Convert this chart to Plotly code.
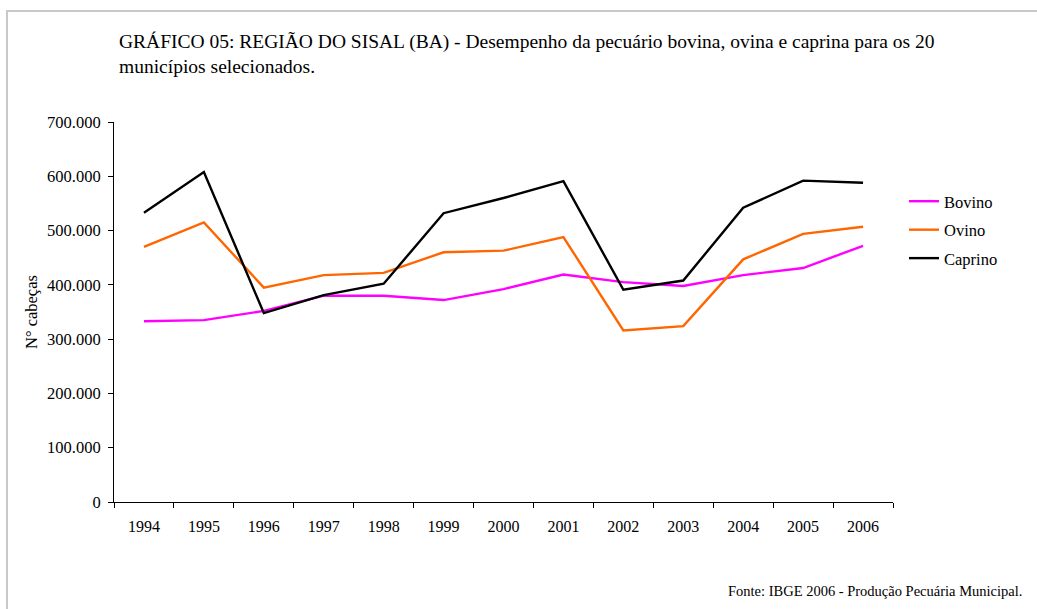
import plotly.graph_objects as go

# Data (number of head, 20 municipalities)
years = ["1994", "1995", "1996", "1997", "1998", "1999", "2000",
         "2001", "2002", "2003", "2004", "2005", "2006"]
bovino = [333000, 335000, 352000, 380000, 380000, 372000, 392000,
          419000, 405000, 398000, 418000, 431000, 472000]
ovino = [470000, 515000, 395000, 418000, 422000, 460000, 463000,
         488000, 316000, 324000, 447000, 494000, 507000]
caprino = [533000, 608000, 348000, 381000, 402000, 532000, 560000,
           591000, 391000, 408000, 542000, 592000, 588000]

series = [
    ("Bovino",  bovino,  "#ff00ff"),
    ("Ovino",   ovino,   "#ff6600"),
    ("Caprino", caprino, "#000000"),
]

FONT = "Liberation Serif"

fig = go.Figure()

for name, vals, color in series:
    fig.add_trace(go.Scatter(
        x=years, y=vals, name=name, mode="lines", legendgroup=name,
        line=dict(color=color, width=2.4),
    ))

# plot area: x 114..893, y 122..502 px
L, R, T, B = 114, 893, 122, 502
W, H = R - L, B - T

def px_x(p):
    return (p - L) / W

def px_y(p):
    return (B - p) / H

fig.update_layout(
    width=1037, height=609,
    margin=dict(l=L, r=1037 - R, t=T, b=609 - B),
    paper_bgcolor="white", plot_bgcolor="white",
    font=dict(family=FONT, size=16, color="black"),
    separators=",.",
    showlegend=True,
    legend=dict(
        x=px_x(904), y=px_y(184), xanchor="left", yanchor="top",
        font=dict(family=FONT, size=16.5),
        bgcolor="rgba(0,0,0,0)", itemwidth=30, tracegroupgap=4,
    ),
    xaxis=dict(
        type="category", range=[-0.5, 12.5],
        tickson="boundaries", ticks="outside", ticklen=5,
        tickcolor="black", showline=True, linecolor="black", linewidth=1,
        showgrid=False, zeroline=False, ticklabelstandoff=10,
        tickfont=dict(family=FONT, size=16),
    ),
    yaxis=dict(
        range=[0, 700000], dtick=100000, tickformat=",d",
        ticks="outside", ticklen=5, tickcolor="black",
        showline=True, linecolor="black", linewidth=1,
        showgrid=False, zeroline=False, ticklabelstandoff=4,
        tickfont=dict(family=FONT, size=16.5),
    ),
)

fig.add_annotation(
    xref="paper", yref="paper", x=px_x(117), y=px_y(29),
    xanchor="left", yanchor="top", showarrow=False, align="left",
    text=("GRÁFICO 05: REGIÃO DO SISAL (BA) - Desempenho da pecuário bovina, "
          "ovina e caprina para os 20<br>municípios selecionados."),
    font=dict(family=FONT, size=19.5),
)

fig.add_annotation(
    xref="paper", yref="paper", x=px_x(31), y=px_y(312),
    xanchor="center", yanchor="middle", showarrow=False, textangle=-90,
    text="N° cabeças", font=dict(family=FONT, size=16.5),
)

fig.add_annotation(
    xref="paper", yref="paper", x=px_x(1024), y=px_y(591),
    xanchor="right", yanchor="middle", showarrow=False,
    text="Fonte: IBGE 2006 - Produção Pecuária Municipal.",
    font=dict(family=FONT, size=14.5),
)

# light grey frame around the chart area
fig.add_shape(
    type="rect", xref="paper", yref="paper",
    x0=px_x(7), x1=px_x(1045), y0=px_y(620), y1=px_y(11),
    line=dict(color="#c8c8c8", width=2), layer="below",
)

fig.write_html(
    "out.html",
    config={"displayModeBar": False},
    post_script="document.body.style.margin='0';",
)
